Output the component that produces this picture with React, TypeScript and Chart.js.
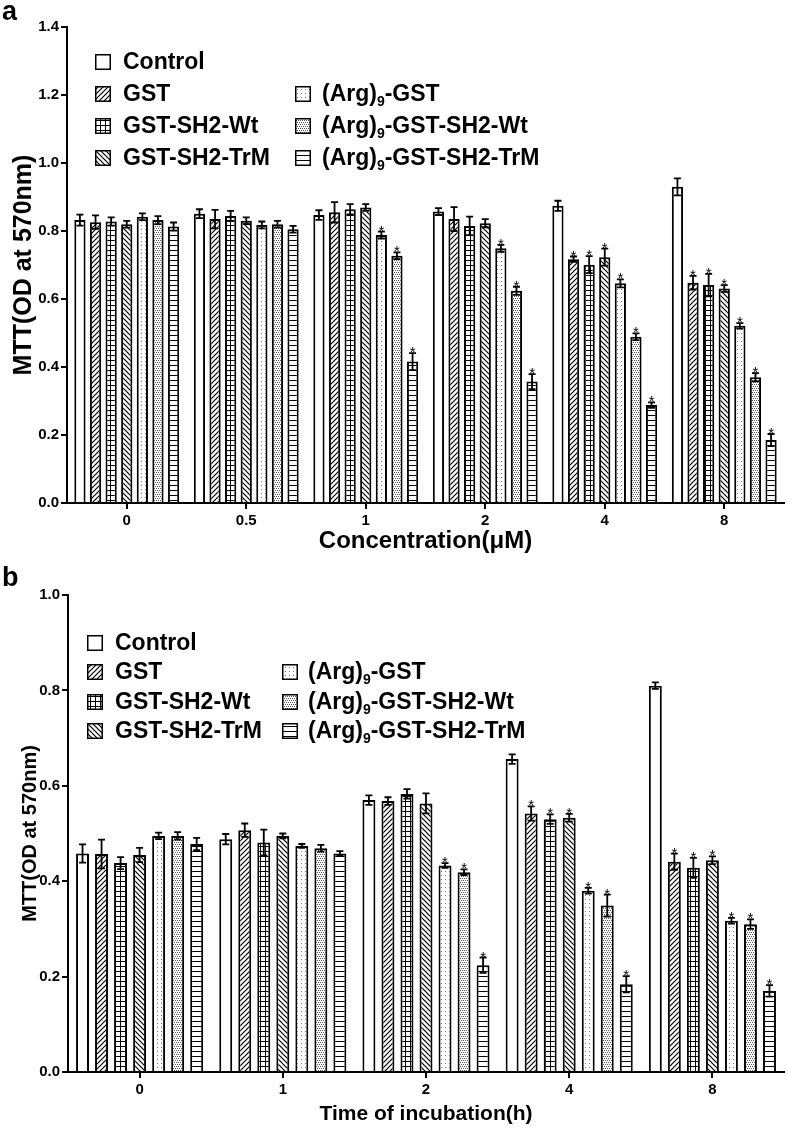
import React, { useEffect, useRef } from 'react';
import { Chart, registerables } from 'chart.js';
Chart.register(...registerables);

const FONT = '"Liberation Sans", Arial, Helvetica, sans-serif';

// ---------- Data ----------
const seriesNames = ['Control', 'GST', 'GST-SH2-Wt', 'GST-SH2-TrM', '(Arg)_9-GST', '(Arg)_9-GST-SH2-Wt', '(Arg)_9-GST-SH2-TrM'];
const patternKinds = ['plain', 'diagUp', 'grid', 'diagDown', 'dotsLight', 'dotsDense', 'hlines'];

// Panel a: concentration
const concLabels = ['0', '0.5', '1', '2', '4', '8'];
const aControl = [0.832, 0.851, 0.847, 0.857, 0.874, 0.930];
const aGST = [0.826, 0.835, 0.855, 0.835, 0.717, 0.648];
const aWt = [0.828, 0.844, 0.864, 0.815, 0.701, 0.641];
const aTrM = [0.820, 0.830, 0.869, 0.823, 0.723, 0.631];
const aArgGST = [0.842, 0.818, 0.788, 0.749, 0.646, 0.521];
const aArgWt = [0.832, 0.820, 0.727, 0.624, 0.489, 0.370];
const aArgTrM = [0.813, 0.805, 0.416, 0.357, 0.288, 0.185];

const aErrControl = [0.016, 0.013, 0.014, 0.010, 0.015, 0.025];
const aErrGST = [0.020, 0.027, 0.030, 0.035, 0.008, 0.020];
const aErrWt = [0.012, 0.015, 0.015, 0.027, 0.025, 0.033];
const aErrTrM = [0.010, 0.010, 0.010, 0.012, 0.025, 0.010];
const aErrArgGST = [0.010, 0.010, 0.010, 0.010, 0.012, 0.008];
const aErrArgWt = [0.012, 0.010, 0.010, 0.012, 0.010, 0.012];
const aErrArgTrM = [0.012, 0.010, 0.025, 0.022, 0.008, 0.018];

const aSigGST = [0, 0, 0, 0, 1, 1];
const aSigArg = [0, 0, 1, 1, 1, 1];
const aSigNone = [0, 0, 0, 0, 0, 0];

// Panel b: time of incubation
const timeLabels = ['0', '1', '2', '4', '8'];
const bControl = [0.458, 0.488, 0.570, 0.656, 0.810];
const bGST = [0.457, 0.507, 0.568, 0.542, 0.441];
const bWt = [0.438, 0.481, 0.583, 0.530, 0.428];
const bTrM = [0.455, 0.495, 0.563, 0.533, 0.444];
const bArgGST = [0.495, 0.474, 0.433, 0.380, 0.317];
const bArgWt = [0.495, 0.469, 0.419, 0.349, 0.310];
const bArgTrM = [0.478, 0.458, 0.224, 0.184, 0.170];

const bErrControl = [0.019, 0.011, 0.010, 0.010, 0.007];
const bErrGST = [0.030, 0.014, 0.008, 0.015, 0.017];
const bErrWt = [0.0125, 0.027, 0.010, 0.010, 0.021];
const bErrTrM = [0.015, 0.005, 0.021, 0.008, 0.008];
const bErrArgGST = [0.007, 0.004, 0.005, 0.006, 0.006];
const bErrArgWt = [0.008, 0.007, 0.006, 0.023, 0.010];
const bErrArgTrM = [0.013, 0.005, 0.016, 0.017, 0.012];

const bSigGST = [0, 0, 0, 1, 1];
const bSigArg = [0, 0, 1, 1, 1];
const bSigNone = [0, 0, 0, 0, 0];

// ---------- Patterns ----------
function makePattern(ctx: CanvasRenderingContext2D, kind: string): any {
  if (kind === 'plain') return '#ffffff';
  const c = document.createElement('canvas');
  const s = kind === 'dotsLight' || kind === 'dotsDense' ? 4 : 5;
  c.width = s; c.height = s;
  const g = c.getContext('2d') as CanvasRenderingContext2D;
  g.fillStyle = '#fff';
  g.fillRect(0, 0, s, s);
  g.strokeStyle = '#000';
  g.fillStyle = '#000';
  g.lineWidth = 1.2;
  if (kind === 'diagUp') {
    g.beginPath();
    g.moveTo(0, s); g.lineTo(s, 0);
    g.moveTo(-1, 1); g.lineTo(1, -1);
    g.moveTo(s - 1, s + 1); g.lineTo(s + 1, s - 1);
    g.stroke();
  } else if (kind === 'diagDown') {
    g.beginPath();
    g.moveTo(0, 0); g.lineTo(s, s);
    g.moveTo(s - 1, -1); g.lineTo(s + 1, 1);
    g.moveTo(-1, s - 1); g.lineTo(1, s + 1);
    g.stroke();
  } else if (kind === 'grid') {
    g.fillRect(0, 0, s, 1);
    g.fillRect(0, 0, 1, s);
  } else if (kind === 'hlines') {
    g.fillRect(0, 0, s, 1);
  } else if (kind === 'dotsLight') {
    g.fillStyle = '#777';
    g.fillRect(1, 1, 1, 1);
  } else if (kind === 'dotsDense') {
    g.fillStyle = '#555';
    g.fillRect(0, 0, 1, 1);
    g.fillRect(2, 0, 1, 1);
    g.fillRect(1, 2, 1, 1);
    g.fillRect(3, 2, 1, 1);
  }
  return ctx.createPattern(c, 'repeat');
}

function drawName(ctx: CanvasRenderingContext2D, name: string, x: number, y: number, size: number) {
  const parts = name.split('_');
  ctx.textBaseline = 'middle';
  ctx.textAlign = 'left';
  ctx.fillStyle = '#000';
  ctx.font = `bold ${size}px ${FONT}`;
  if (parts.length === 1) {
    ctx.fillText(name, x, y);
    return;
  }
  const first = parts[0];
  const sub = parts[1].charAt(0);
  const rest = parts[1].slice(1);
  ctx.fillText(first, x, y);
  let cx = x + ctx.measureText(first).width;
  ctx.font = `bold ${Math.round(size * 0.62)}px ${FONT}`;
  ctx.fillText(sub, cx, y + size * 0.3);
  cx += ctx.measureText(sub).width;
  ctx.font = `bold ${size}px ${FONT}`;
  ctx.fillText(rest, cx, y);
}

interface PanelCfg {
  labels: string[];
  values: number[][];
  errors: number[][];
  sig: number[][];
  yMax: number;
  xTitle: string;
  panel: string;
  height: number;
  padTop: number;
  bottomH: number;
  yWidth: number;
  catPct: number;
  barPct: number;
  legendRows: number[];
  legendLeft: [number, number];
  legendRight: [number, number];
  xTitlePad: number;
  xTitleSize: number;
  yTitleSize: number;
  yTitlePad: number;
  tickSize: number;
}

function Panel({ cfg }: { cfg: PanelCfg }) {
  const ref = useRef<HTMLCanvasElement | null>(null);
  useEffect(() => {
    const canvas = ref.current as HTMLCanvasElement;
    const ctx = canvas.getContext('2d') as CanvasRenderingContext2D;
    const patterns = patternKinds.map((k) => makePattern(ctx, k));

    const overlay = {
      id: 'overlay',
      afterDatasetsDraw(chart: any) {
        const c = chart.ctx as CanvasRenderingContext2D;
        const ys = chart.scales.y;
        c.save();
        c.strokeStyle = '#000';
        c.fillStyle = '#000';
        c.lineWidth = 1.8;
        chart.data.datasets.forEach((ds: any, i: number) => {
          const meta = chart.getDatasetMeta(i);
          meta.data.forEach((bar: any, j: number) => {
            const v = cfg.values[i][j];
            const e = cfg.errors[i][j];
            const x = bar.x;
            const yt = ys.getPixelForValue(v + e);
            const yb = ys.getPixelForValue(v - e);
            c.beginPath();
            c.moveTo(x, yt); c.lineTo(x, yb);
            c.moveTo(x - 3.5, yt); c.lineTo(x + 3.5, yt);
            c.moveTo(x - 3.5, yb); c.lineTo(x + 3.5, yb);
            c.stroke();
            if (cfg.sig[i][j]) {
              c.font = `15px ${FONT}`;
              c.textAlign = 'center';
              c.textBaseline = 'alphabetic';
              c.fillText('*', x, yt + 4);
            }
          });
        });
        c.restore();
      },
      afterDraw(chart: any) {
        const c = chart.ctx as CanvasRenderingContext2D;
        c.save();
        c.fillStyle = '#000';
        c.font = `bold 27px ${FONT}`;
        c.textAlign = 'left';
        c.textBaseline = 'alphabetic';
        c.fillText(cfg.panel, 2, 20);
        const slots: Array<[number, number, number]> = [
          [cfg.legendLeft[0], cfg.legendLeft[1], cfg.legendRows[0]],
          [cfg.legendLeft[0], cfg.legendLeft[1], cfg.legendRows[1]],
          [cfg.legendLeft[0], cfg.legendLeft[1], cfg.legendRows[2]],
          [cfg.legendLeft[0], cfg.legendLeft[1], cfg.legendRows[3]],
          [cfg.legendRight[0], cfg.legendRight[1], cfg.legendRows[1]],
          [cfg.legendRight[0], cfg.legendRight[1], cfg.legendRows[2]],
          [cfg.legendRight[0], cfg.legendRight[1], cfg.legendRows[3]],
        ];
        seriesNames.forEach((name, i) => {
          const [bx, tx, ry] = slots[i];
          c.fillStyle = patterns[i];
          c.fillRect(bx, ry - 8, 16, 16);
          c.strokeStyle = '#000';
          c.lineWidth = 1.5;
          c.strokeRect(bx + 0.75, ry - 7.25, 14.5, 14.5);
          drawName(c, name, tx, ry + 1, 23);
        });
        c.restore();
      },
    };

    const tickFont = { family: FONT, size: cfg.tickSize, weight: 'bold' as const };
    const chart = new Chart(ctx, {
      type: 'bar',
      data: {
        labels: cfg.labels,
        datasets: seriesNames.map((n, i) => ({
          label: n.replace('_', ''),
          data: cfg.values[i],
          backgroundColor: patterns[i],
          borderColor: '#000',
          borderWidth: 2,
          borderSkipped: 'bottom',
          categoryPercentage: cfg.catPct,
          barPercentage: cfg.barPct,
        })),
      },
      options: {
        responsive: false,
        animation: false,
        events: [],
        layout: { padding: { top: cfg.padTop, right: 3, left: 0, bottom: 0 } },
        plugins: { legend: { display: false }, tooltip: { enabled: false } },
        scales: {
          x: {
            type: 'category',
            offset: true,
            grid: { offset: false, drawOnChartArea: false, drawTicks: true, tickLength: 6, color: '#000', lineWidth: 2 },
            border: { color: '#000', width: 2 },
            ticks: { color: '#000', font: tickFont, padding: 3 },
            title: {
              display: true, text: cfg.xTitle, color: '#000',
              font: { family: FONT, size: cfg.xTitleSize, weight: 'bold' },
              padding: { top: 0, bottom: cfg.xTitlePad },
            },
            afterFit: (s: any) => { s.height = cfg.bottomH; },
          },
          y: {
            min: 0,
            max: cfg.yMax,
            grid: { drawOnChartArea: false, drawTicks: true, tickLength: 6, color: '#000', lineWidth: 2 },
            border: { color: '#000', width: 2 },
            ticks: {
              stepSize: 0.2, color: '#000', font: tickFont, padding: 2,
              callback: (v: any) => Number(v).toFixed(1),
            },
            title: {
              display: true, text: 'MTT(OD at 570nm)', color: '#000',
              font: { family: FONT, size: cfg.yTitleSize, weight: 'bold' },
              padding: { top: cfg.yTitlePad, bottom: 0 },
            },
            afterFit: (s: any) => { s.width = cfg.yWidth; },
          },
        },
      },
      plugins: [overlay],
    } as any);
    return () => chart.destroy();
  }, [cfg]);
  return <canvas ref={ref} width={787} height={cfg.height} style={{ display: 'block' }} />;
}

const panelA: PanelCfg = {
  labels: concLabels,
  values: [aControl, aGST, aWt, aTrM, aArgGST, aArgWt, aArgTrM],
  errors: [aErrControl, aErrGST, aErrWt, aErrTrM, aErrArgGST, aErrArgWt, aErrArgTrM],
  sig: [aSigNone, aSigGST, aSigGST, aSigGST, aSigArg, aSigArg, aSigArg],
  yMax: 1.4,
  xTitle: 'Concentration(μM)',
  panel: 'a',
  height: 566,
  padTop: 27,
  bottomH: 63,
  yWidth: 67,
  catPct: 0.914,
  barPct: 0.72,
  legendRows: [62, 94, 126, 158],
  legendLeft: [95, 123],
  legendRight: [295, 322],
  xTitlePad: 10,
  xTitleSize: 24,
  yTitleSize: 25,
  yTitlePad: 9,
  tickSize: 15,
};

const panelB: PanelCfg = {
  labels: timeLabels,
  values: [bControl, bGST, bWt, bTrM, bArgGST, bArgWt, bArgTrM],
  errors: [bErrControl, bErrGST, bErrWt, bErrTrM, bErrArgGST, bErrArgWt, bErrArgTrM],
  sig: [bSigNone, bSigGST, bSigGST, bSigGST, bSigArg, bSigArg, bSigArg],
  yMax: 1.0,
  xTitle: 'Time of incubation(h)',
  panel: 'b',
  height: 563,
  padTop: 29,
  bottomH: 57,
  yWidth: 68,
  catPct: 0.93,
  barPct: 0.68,
  legendRows: [77, 106, 136, 165],
  legendLeft: [87, 115],
  legendRight: [282, 308],
  xTitlePad: 2,
  xTitleSize: 21,
  yTitleSize: 20,
  yTitlePad: 18,
  tickSize: 15,
};

export default function App() {
  return (
    <div style={{ position: 'absolute', left: 0, top: 0, width: 787, height: 1129, background: '#fff' }}>
      <Panel cfg={panelA} />
      <Panel cfg={panelB} />
    </div>
  );
}
